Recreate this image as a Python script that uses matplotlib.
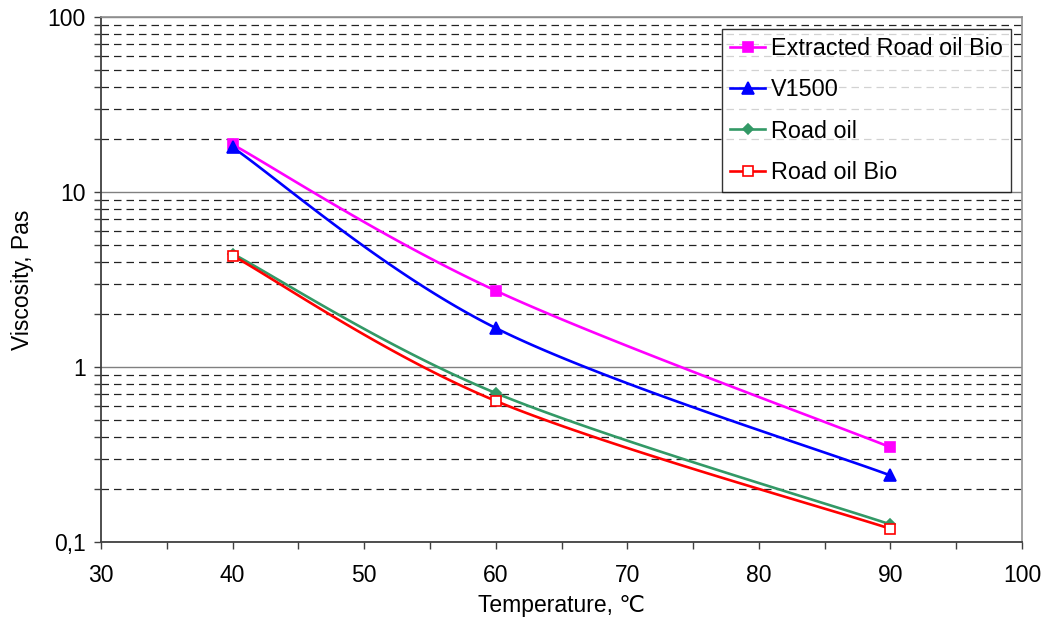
import numpy as np
import matplotlib
matplotlib.use("Agg")
import matplotlib.pyplot as plt
from matplotlib.ticker import FixedLocator, FixedFormatter, NullFormatter, MultipleLocator

plt.rcParams['font.family'] = ['Liberation Sans', 'DejaVu Sans']

temperature = [40, 60, 90]
extracted_bio = [18.7, 2.73, 0.348]
v1500 = [18.0, 1.67, 0.24]
road_oil = [4.44, 0.71, 0.126]
road_oil_bio = [4.33, 0.64, 0.119]

series_names = ["Extracted Road oil Bio", "V1500", "Road oil", "Road oil Bio"]
y_tick_values = [0.1, 1, 10, 100]
y_tick_labels = ["0,1", "1", "10", "100"]

XMIN, XMAX, YMIN, YMAX = 30, 100, 0.1, 100

fig = plt.figure(figsize=(10.45, 6.30), dpi=100)
ax = fig.add_axes([101/1045, 88/630, 921/1045, 525/630])


def smooth(xs, ys, W=921, H=525, n=60):
    # Excel-style smoothed line: cubic Bezier in display space
    px = (np.asarray(xs, float) - XMIN) / (XMAX - XMIN) * W
    py = (np.log10(ys) - np.log10(YMIN)) / (np.log10(YMAX) - np.log10(YMIN)) * H
    P = np.column_stack([px, py])
    out = []
    m = len(P)
    for i in range(m - 1):
        p0 = P[max(i - 1, 0)]
        p1 = P[i]
        p2 = P[i + 1]
        p3 = P[min(i + 2, m - 1)]
        c1 = p1 + (p2 - p0) / 6.0
        c2 = p2 - (p3 - p1) / 6.0
        t = np.linspace(0, 1, n)[:, None]
        seg = ((1 - t) ** 3) * p1 + 3 * ((1 - t) ** 2) * t * c1 + 3 * (1 - t) * t ** 2 * c2 + t ** 3 * p2
        out.append(seg if i == 0 else seg[1:])
    S = np.vstack(out)
    sx = S[:, 0] / W * (XMAX - XMIN) + XMIN
    sy = 10 ** (S[:, 1] / H * (np.log10(YMAX) - np.log10(YMIN)) + np.log10(YMIN))
    return sx, sy


styles = [
    (extracted_bio, "#FF00FF", "s", 7, "#FF00FF"),
    (v1500, "#0000FF", "^", 8, "#0000FF"),
    (road_oil, "#339966", "D", 5, "#339966"),
    (road_oil_bio, "#FF0000", "s", 7, "white"),
]

for (vals, col, mk, ms, fc), name in zip(styles, series_names):
    sx, sy = smooth(temperature, vals)
    ax.plot(sx, sy, color=col, lw=1.9, zorder=3)
    ax.plot(temperature, vals, linestyle="none", marker=mk, markersize=ms,
            markerfacecolor=fc, markeredgecolor=col, markeredgewidth=1.2, zorder=4)
    # legend proxy
    ax.plot([], [], color=col, lw=1.9, marker=mk, markersize=ms,
            markerfacecolor=fc, markeredgecolor=col, markeredgewidth=1.2, label=name)

ax.set_yscale("log")
ax.set_xlim(XMIN, XMAX)
ax.set_ylim(YMIN, YMAX)

ax.yaxis.set_major_locator(FixedLocator(y_tick_values))
ax.yaxis.set_major_formatter(FixedFormatter(y_tick_labels))
minor_vals = [m * 10.0 ** e for e in range(-1, 2) for m in range(2, 10)]
ax.yaxis.set_minor_locator(FixedLocator(minor_vals))
ax.yaxis.set_minor_formatter(NullFormatter())

ax.xaxis.set_major_locator(MultipleLocator(10))
ax.xaxis.set_minor_locator(MultipleLocator(5))

ax.grid(True, which="major", axis="y", color="#808080", lw=1.0, linestyle="-", zorder=1)
ax.grid(True, which="minor", axis="y", color="#222222", lw=0.9, linestyle=(0, (6, 4)), zorder=1)
ax.set_axisbelow(True)

ax.tick_params(axis="both", which="major", direction="out", length=5, width=1,
               color="#404040", labelsize=16.5, pad=6)
ax.tick_params(axis="y", which="minor", direction="out", length=5, width=1, color="#404040")
ax.tick_params(axis="x", which="minor", direction="out", length=5, width=1, color="#404040")
ax.tick_params(axis="x", which="major", pad=11)

for s in ["left", "bottom"]:
    ax.spines[s].set_color("#404040")
    ax.spines[s].set_linewidth(1.3)
for s in ["top", "right"]:
    ax.spines[s].set_color("#909090")
    ax.spines[s].set_linewidth(1.2)

ax.set_xlabel("Temperature, \u2103", fontsize=16.5, labelpad=5)
ax.set_ylabel("Viscosity, Pas", fontsize=16.5, labelpad=10)

leg = ax.legend(loc="upper right", bbox_to_anchor=(1011/1045, 601/630), bbox_transform=fig.transFigure,
                fontsize=16.8, frameon=True, fancybox=False, handlelength=1.5, handletextpad=0.25,
                borderpad=0.35, labelspacing=0.78, borderaxespad=0)
leg.get_frame().set_edgecolor("black")
leg.get_frame().set_linewidth(1.0)

fig.savefig("out.png", dpi=100)
